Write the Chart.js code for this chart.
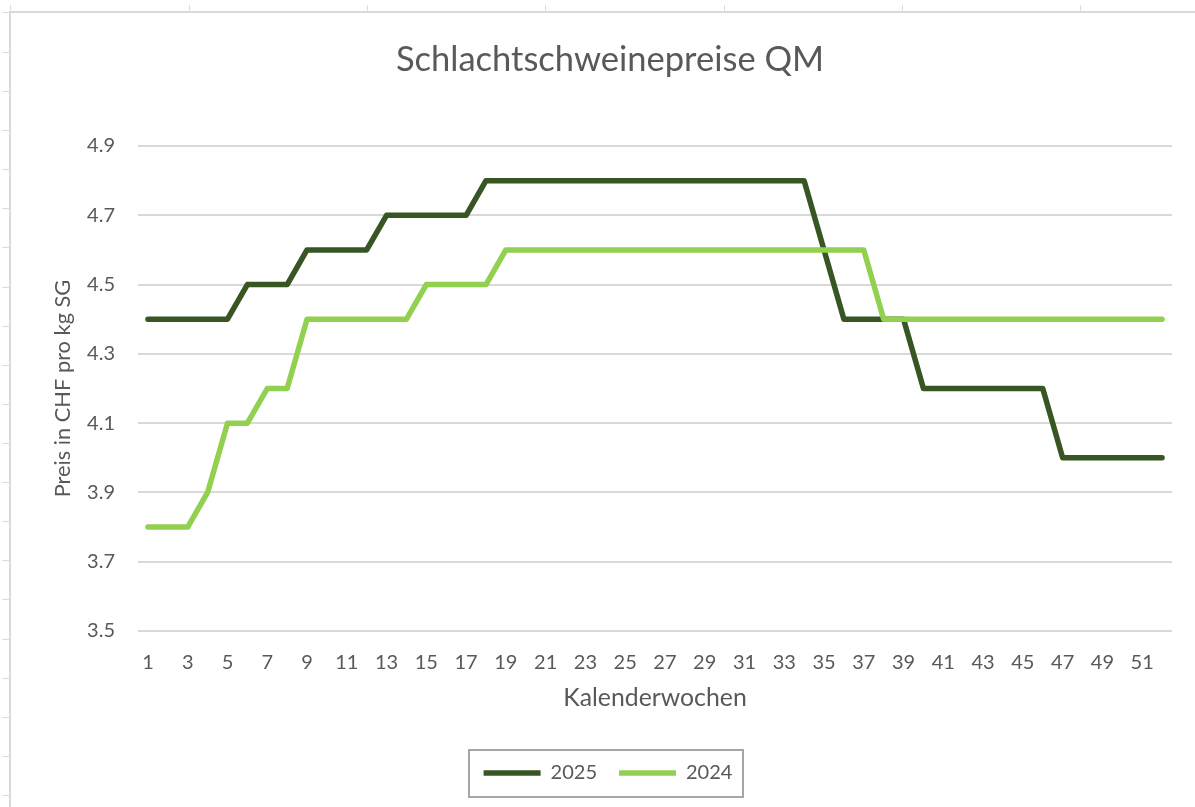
<!DOCTYPE html>
<html>
<head>
<meta charset="utf-8">
<script src="https://cdn.jsdelivr.net/npm/chart.js@4"></script>
<style>
  html, body { margin: 0; padding: 0; background: #ffffff; }
  #wrap { width: 1195px; height: 807px; position: relative; }
</style>
</head>
<body>
<div id="wrap"><canvas id="c" width="1195" height="807"></canvas></div>
<script>
// ---- data ----
const weeks = [];
for (let w = 1; w <= 52; w++) weeks.push(String(w));

const prices2025 = [
  4.4, 4.4, 4.4, 4.4, 4.4,
  4.5, 4.5, 4.5,
  4.6, 4.6, 4.6, 4.6,
  4.7, 4.7, 4.7, 4.7, 4.7,
  4.8, 4.8, 4.8, 4.8, 4.8, 4.8, 4.8, 4.8, 4.8, 4.8, 4.8, 4.8, 4.8, 4.8, 4.8, 4.8, 4.8,
  4.6,
  4.4, 4.4, 4.4, 4.4,
  4.2, 4.2, 4.2, 4.2, 4.2, 4.2, 4.2,
  4.0, 4.0, 4.0, 4.0, 4.0, 4.0
];
const prices2024 = [
  3.8, 3.8, 3.8,
  3.9,
  4.1, 4.1,
  4.2, 4.2,
  4.4, 4.4, 4.4, 4.4, 4.4, 4.4,
  4.5, 4.5, 4.5, 4.5,
  4.6, 4.6, 4.6, 4.6, 4.6, 4.6, 4.6, 4.6, 4.6, 4.6, 4.6, 4.6, 4.6, 4.6, 4.6, 4.6, 4.6, 4.6, 4.6,
  4.4, 4.4, 4.4, 4.4, 4.4, 4.4, 4.4, 4.4, 4.4, 4.4, 4.4, 4.4, 4.4, 4.4, 4.4
];
const seriesNames = ['2025', '2024'];
const yTickValues = [3.5, 3.7, 3.9, 4.1, 4.3, 4.5, 4.7, 4.9];

const chartTitle = 'Schlachtschweinepreise QM';
const xTitle = 'Kalenderwochen';
const yTitle = 'Preis in CHF pro kg SG';

// ---- styles ----
const FONT = 'Lato, Calibri, Carlito, "Open Sans", sans-serif';
const TXT = '#595959';
const GRID = '#d9d9d9';

const sheetFrame = {
  id: 'sheetFrame',
  afterLayout(chart) {
    // nudge the centred legend row and title slightly to the right, as in the reference
    const lg = chart.legend;
    if (lg) { lg.left += 12; lg.right += 12; }
    const tb = chart.titleBlock;
    if (tb) { tb.left += 14; tb.right += 14; }
  },
  beforeDraw(chart) {
    const ctx = chart.ctx;
    ctx.save();
    ctx.fillStyle = '#ffffff';
    ctx.fillRect(0, 0, chart.width, chart.height);
    ctx.strokeStyle = '#d9d9d9';
    ctx.lineWidth = 2;
    ctx.beginPath();
    ctx.moveTo(9, 12); ctx.lineTo(chart.width, 12);
    ctx.moveTo(10, 11); ctx.lineTo(10, chart.height);
    ctx.stroke();
    ctx.lineWidth = 1;
    ctx.strokeStyle = '#dcdcdc';
    ctx.beginPath();
    for (let y = 52; y < chart.height; y += 39.1) {
      ctx.moveTo(2, Math.round(y) + 0.5); ctx.lineTo(10, Math.round(y) + 0.5);
    }
    ctx.moveTo(2, 12.5); ctx.lineTo(10, 12.5);
    for (let x = 189; x < chart.width; x += 178.2) {
      ctx.moveTo(Math.round(x) + 0.5, 5); ctx.lineTo(Math.round(x) + 0.5, 12);
    }
    ctx.moveTo(10.5, 5); ctx.lineTo(10.5, 12);
    ctx.stroke();
    ctx.restore();
  },
  afterDraw(chart) {
    const lg = chart.legend;
    if (!lg || !lg.legendHitBoxes || !lg.legendHitBoxes.length) return;
    const hb = lg.legendHitBoxes;
    const first = hb[0], last = hb[hb.length - 1];
    const cy = first.top + first.height / 2;
    const ctx = chart.ctx;
    ctx.save();
    ctx.strokeStyle = '#a6a6a6';
    ctx.lineWidth = 2;
    const x0 = first.left - 15, x1 = last.left + last.width + 10;
    ctx.strokeRect(Math.round(x0), Math.round(cy - 23), Math.round(x1 - x0), 47);
    ctx.restore();
  }
};

const ctx = document.getElementById('c').getContext('2d');
new Chart(ctx, {
  type: 'line',
  data: {
    labels: weeks,
    datasets: [
      {
        label: seriesNames[0],
        data: prices2025,
        borderColor: '#375623',
        backgroundColor: '#375623',
        borderWidth: 5.5,
        borderCapStyle: 'round',
        borderJoinStyle: 'round',
        pointRadius: 0,
        pointHoverRadius: 0,
        tension: 0,
        fill: false,
        order: 1
      },
      {
        label: seriesNames[1],
        data: prices2024,
        borderColor: '#92d050',
        backgroundColor: '#92d050',
        borderWidth: 5.5,
        borderCapStyle: 'round',
        borderJoinStyle: 'round',
        pointRadius: 0,
        pointHoverRadius: 0,
        tension: 0,
        fill: false,
        order: 0
      }
    ]
  },
  options: {
    responsive: false,
    animation: false,
    devicePixelRatio: 1,
    layout: { padding: { left: 20, right: 23, top: 0, bottom: 14 } },
    plugins: {
      title: {
        display: true,
        text: chartTitle,
        color: TXT,
        font: { family: FONT, size: 34.5, weight: 'normal' },
        padding: { top: 39, bottom: 65.6 }
      },
      legend: {
        display: true,
        position: 'bottom',
        labels: {
          color: TXT,
          font: { family: FONT, size: 20 },
          usePointStyle: true,
          pointStyle: 'line',
          pointStyleWidth: 57,
          padding: 22,
          sort: (a, b) => a.datasetIndex - b.datasetIndex
        }
      },
      tooltip: { enabled: false }
    },
    scales: {
      x: {
        type: 'category',
        offset: true,
        grid: { display: false, drawTicks: false },
        border: { display: false },
        ticks: {
          color: TXT,
          font: { family: FONT, size: 20 },
          autoSkip: false,
          maxRotation: 0,
          minRotation: 0,
          padding: 20,
          callback: function (val, idx) {
            return (idx % 2 === 0) ? this.getLabelForValue(val) : '';
          }
        },
        title: {
          display: true,
          text: xTitle,
          color: TXT,
          font: { family: FONT, size: 24.8 },
          padding: { top: 0, bottom: 28 }
        },
        afterFit(scale) { scale.height = 110; }
      },
      y: {
        min: 3.5,
        max: 4.9,
        afterBuildTicks(scale) {
          scale.ticks = yTickValues.map(v => ({ value: v }));
        },
        grid: { color: GRID, lineWidth: 2, drawTicks: false },
        border: { display: false },
        ticks: {
          color: TXT,
          font: { family: FONT, size: 20 },
          padding: 23,
          callback: (v) => v.toFixed(1)
        },
        title: {
          display: true,
          text: yTitle,
          color: TXT,
          font: { family: FONT, size: 21.8 },
          padding: { top: 30, bottom: 0 }
        },
        afterFit(scale) { scale.width = 118; }
      }
    }
  },
  plugins: [sheetFrame]
});
</script>
</body>
</html>
